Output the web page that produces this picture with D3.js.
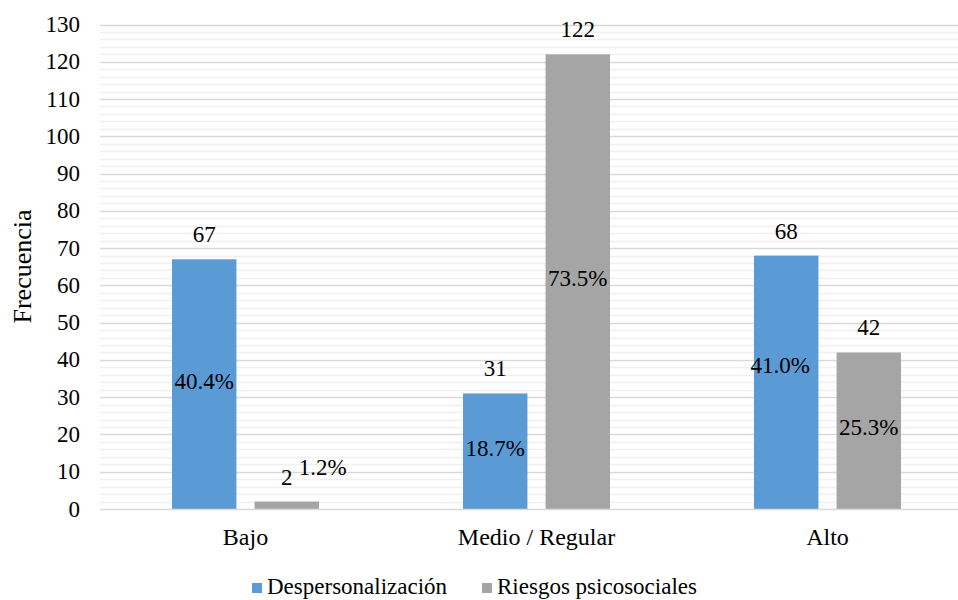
<!DOCTYPE html>
<html>
<head>
<meta charset="utf-8">
<script src="https://cdn.jsdelivr.net/npm/d3@7"></script>
<style>
  html, body { margin: 0; padding: 0; background: #fff; }
  svg { display: block; font-family: "Liberation Serif", "Times New Roman", serif; }
</style>
</head>
<body>
<svg id="chart" width="958" height="600"></svg>
<script>
// Chart data
const categories = ["Bajo", "Medio / Regular", "Alto"];
const seriesNames = ["Despersonalización", "Riesgos psicosociales"];
const despersonalizacion = [67, 31, 68];
const riesgos = [2, 122, 42];
const despPct = ["40.4%", "18.7%", "41.0%"];
const riesgosPct = ["1.2%", "73.5%", "25.3%"];
const yTicks = [0, 10, 20, 30, 40, 50, 60, 70, 80, 90, 100, 110, 120, 130];
const colors = ["#5B9BD5", "#A5A5A5"];

const svg = d3.select("#chart");
const W = 958, H = 600;
const plot = { left: 100, right: 973, top: 24, bottom: 509 };
const fontSize = 23;

const rows = categories.map((c, i) => ({
  cat: c,
  vals: [
    { s: 0, v: despersonalizacion[i], pct: despPct[i] },
    { s: 1, v: riesgos[i], pct: riesgosPct[i] }
  ]
}));

const y = d3.scaleLinear().domain([0, 130]).range([plot.bottom, plot.top + 0.5]);
const x0 = d3.scaleBand().domain(categories).range([plot.left, plot.right]);
const groupW = 147;
const x1 = d3.scaleBand().domain([0, 1])
  .range([(x0.bandwidth() - groupW) / 2, (x0.bandwidth() + groupW) / 2])
  .paddingInner(0.22);

svg.append("defs").append("clipPath").attr("id", "pc")
  .append("rect").attr("x", 0).attr("y", 0).attr("width", W).attr("height", H);

const g = svg.append("g").attr("clip-path", "url(#pc)");

// Minor gridlines every 2 units
const minor = d3.range(2, 130, 2).filter(v => v % 10 !== 0);
g.append("g").selectAll("line").data(minor).join("line")
  .attr("x1", plot.left).attr("x2", plot.right)
  .attr("y1", d => Math.round(y(d)) + 0.5).attr("y2", d => Math.round(y(d)) + 0.5)
  .attr("stroke", "#f0f0f0").attr("stroke-width", 1.5);

// Major gridlines
g.append("g").selectAll("line").data(yTicks.filter(v => v > 0)).join("line")
  .attr("x1", plot.left).attr("x2", plot.right)
  .attr("y1", d => Math.round(y(d)) + 0.5).attr("y2", d => Math.round(y(d)) + 0.5)
  .attr("stroke", "#d9d9d9").attr("stroke-width", 1.5);

// Bars
const groups = g.append("g").selectAll("g").data(rows).join("g")
  .attr("transform", d => `translate(${x0(d.cat)},0)`);

groups.selectAll("rect").data(d => d.vals).join("rect")
  .attr("x", d => x1(d.s))
  .attr("width", x1.bandwidth())
  .attr("y", d => y(d.v))
  .attr("height", d => y(0) - y(d.v))
  .attr("fill", d => colors[d.s]);

// Baseline axis
g.append("line")
  .attr("x1", plot.left).attr("x2", plot.right)
  .attr("y1", y(0) + 0.5).attr("y2", y(0) + 0.5)
  .attr("stroke", "#d9d9d9").attr("stroke-width", 1.5);

// Value labels above bars
groups.selectAll("text.val").data(d => d.vals).join("text")
  .attr("class", "val")
  .attr("x", d => x1(d.s) + x1.bandwidth() / 2)
  .attr("y", d => y(d.v) - 17)
  .attr("text-anchor", "middle")
  .attr("font-size", fontSize).attr("fill", "#000")
  .text(d => d.v);

// Percentage labels: centred in the bar, or beside the value when the bar is too short
const pctNudge = { "Alto-0": [-6, -14] };
groups.each(function(row) {
  d3.select(this).selectAll("text.pct").data(row.vals).join("text")
    .attr("class", "pct")
    .attr("text-anchor", "middle")
    .attr("font-size", fontSize).attr("fill", "#000")
    .attr("dominant-baseline", "central")
    .attr("x", d => {
      const cx = x1(d.s) + x1.bandwidth() / 2;
      if (y(0) - y(d.v) < 30) return cx + 36;
      const n = pctNudge[row.cat + "-" + d.s];
      return cx + (n ? n[0] : 0);
    })
    .attr("y", d => {
      if (y(0) - y(d.v) < 30) return y(d.v) - 34;
      const n = pctNudge[row.cat + "-" + d.s];
      return (y(d.v) + y(0)) / 2 - 3 + (n ? n[1] : 0);
    })
    .text(d => d.pct);
});

// Y axis tick labels
svg.append("g").selectAll("text").data(yTicks).join("text")
  .attr("x", 80)
  .attr("y", d => y(d))
  .attr("dominant-baseline", "central")
  .attr("text-anchor", "end")
  .attr("font-size", fontSize).attr("fill", "#000")
  .text(d => d);

// Y axis title
svg.append("text")
  .attr("transform", `translate(31,${(plot.top + plot.bottom) / 2}) rotate(-90)`)
  .attr("text-anchor", "middle")
  .attr("font-size", 26).attr("fill", "#000")
  .text("Frecuencia");

// Category labels
svg.append("g").selectAll("text").data(categories).join("text")
  .attr("x", d => x0(d) + x0.bandwidth() / 2)
  .attr("y", 545)
  .attr("text-anchor", "middle")
  .attr("font-size", 24).attr("fill", "#000")
  .text(d => d);

// Legend
const legendX = [252, 482];
const leg = svg.append("g").selectAll("g").data(seriesNames).join("g")
  .attr("transform", (d, i) => `translate(${legendX[i]},0)`);
leg.append("rect").attr("x", 0).attr("y", 583).attr("width", 10).attr("height", 10)
  .attr("fill", (d, i) => colors[i]);
leg.append("text").attr("x", 15).attr("y", 594)
  .attr("font-size", fontSize).attr("fill", "#000")
  .text(d => d);
</script>
</body>
</html>
